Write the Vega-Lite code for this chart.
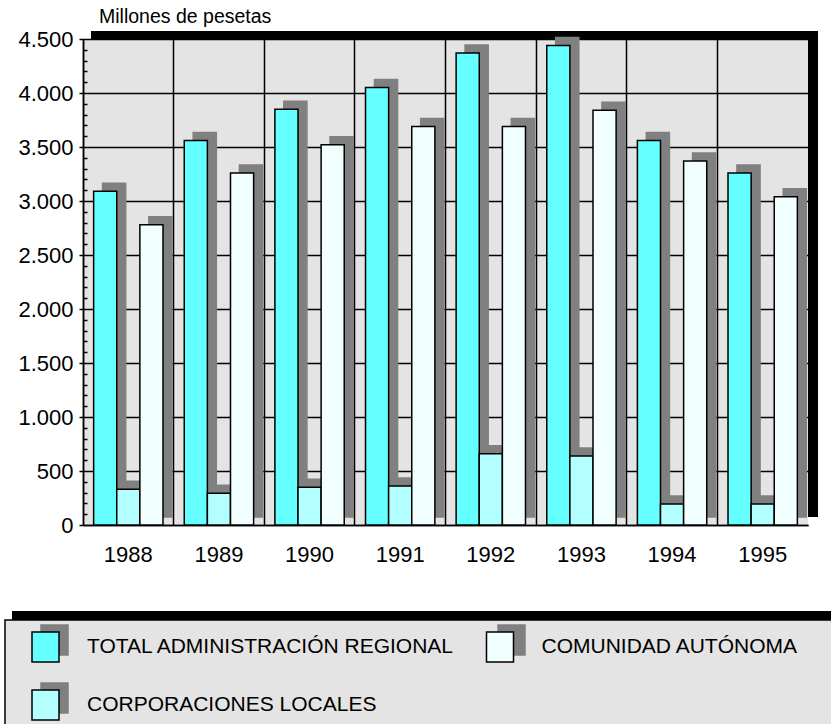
{
  "$schema": "https://vega.github.io/schema/vega-lite/v6.json",
  "width": 725,
  "height": 486,
  "autosize": {"type": "none"},
  "padding": {"left": 83, "top": 39, "right": 23, "bottom": 199},
  "background": "#FFFFFF",
  "title": {"text": "Millones de pesetas", "anchor": "start", "frame": "group", "fontSize": 19.5, "fontWeight": "normal", "font": "Liberation Sans", "color": "#000000", "dx": 16, "offset": 0},
  "config": {"view": {"fill": "#E4E4E4", "stroke": null}, "font": "Liberation Sans"},
  "data": {"values": [
    {"year": "1988", "series": "TOTAL ADMINISTRACIÓN REGIONAL", "value": 3090},
    {"year": "1988", "series": "CORPORACIONES LOCALES", "value": 330},
    {"year": "1988", "series": "COMUNIDAD AUTÓNOMA", "value": 2780},
    {"year": "1989", "series": "TOTAL ADMINISTRACIÓN REGIONAL", "value": 3560},
    {"year": "1989", "series": "CORPORACIONES LOCALES", "value": 295},
    {"year": "1989", "series": "COMUNIDAD AUTÓNOMA", "value": 3260},
    {"year": "1990", "series": "TOTAL ADMINISTRACIÓN REGIONAL", "value": 3850},
    {"year": "1990", "series": "CORPORACIONES LOCALES", "value": 350},
    {"year": "1990", "series": "COMUNIDAD AUTÓNOMA", "value": 3520},
    {"year": "1991", "series": "TOTAL ADMINISTRACIÓN REGIONAL", "value": 4050},
    {"year": "1991", "series": "CORPORACIONES LOCALES", "value": 360},
    {"year": "1991", "series": "COMUNIDAD AUTÓNOMA", "value": 3690},
    {"year": "1992", "series": "TOTAL ADMINISTRACIÓN REGIONAL", "value": 4370},
    {"year": "1992", "series": "CORPORACIONES LOCALES", "value": 660},
    {"year": "1992", "series": "COMUNIDAD AUTÓNOMA", "value": 3690},
    {"year": "1993", "series": "TOTAL ADMINISTRACIÓN REGIONAL", "value": 4440},
    {"year": "1993", "series": "CORPORACIONES LOCALES", "value": 640},
    {"year": "1993", "series": "COMUNIDAD AUTÓNOMA", "value": 3840},
    {"year": "1994", "series": "TOTAL ADMINISTRACIÓN REGIONAL", "value": 3560},
    {"year": "1994", "series": "CORPORACIONES LOCALES", "value": 195},
    {"year": "1994", "series": "COMUNIDAD AUTÓNOMA", "value": 3370},
    {"year": "1995", "series": "TOTAL ADMINISTRACIÓN REGIONAL", "value": 3260},
    {"year": "1995", "series": "CORPORACIONES LOCALES", "value": 195},
    {"year": "1995", "series": "COMUNIDAD AUTÓNOMA", "value": 3040}
  ]},
  "resolve": {
    "scale": {"fill": "independent", "xOffset": "independent"},
    "legend": {"fill": "independent"},
    "axis": {"x": "independent", "y": "independent"}
  },
  "layer": [
    {
      "mark": {"type": "bar", "opacity": 0},
      "encoding": {
        "x": {"field": "year", "type": "ordinal", "scale": {"paddingInner": 0, "paddingOuter": 0},
          "axis": {"orient": "bottom", "bandPosition": 0, "grid": true, "gridColor": "#000000", "gridWidth": 1.5, "gridOpacity": 1, "labels": false, "ticks": false, "domain": false, "title": null}},
        "xOffset": {"field": "series", "type": "nominal", "scale": {"domain": ["TOTAL ADMINISTRACIÓN REGIONAL", "CORPORACIONES LOCALES", "COMUNIDAD AUTÓNOMA"], "paddingInner": 0, "paddingOuter": 0.46}},
        "y": {"field": "value", "type": "quantitative", "scale": {"domain": [0, 4500], "nice": false},
          "axis": {"orient": "left", "offset": -4, "values": [100, 200, 300, 400, 600, 700, 800, 900, 1100, 1200, 1300, 1400, 1600, 1700, 1800, 1900, 2100, 2200, 2300, 2400, 2600, 2700, 2800, 2900, 3100, 3200, 3300, 3400, 3600, 3700, 3800, 3900, 4100, 4200, 4300, 4400], "tickSize": 4, "tickWidth": 1.5, "tickColor": "#000000", "labels": false, "domain": false, "grid": false, "title": null}},
        "fill": {"field": "series", "type": "nominal",
          "scale": {"domain": ["TOTAL ADMINISTRACIÓN REGIONAL", "COMUNIDAD AUTÓNOMA", "CORPORACIONES LOCALES"], "range": ["#000000"]},
          "legend": {"orient": "none", "legendX": -71, "legendY": 572, "title": null, "padding": 0, "values": ["TOTAL ADMINISTRACIÓN REGIONAL"], "symbolType": "M-1,-1H1V-0.69H-1Z", "symbolSize": 705600, "symbolStrokeWidth": 0, "symbolOpacity": 1, "labelExpr": "''", "labelOffset": 0, "zindex": 1}}
      }
    },
    {
      "mark": {"type": "bar", "opacity": 0},
      "encoding": {
        "x": {"field": "year", "type": "ordinal", "axis": null},
        "xOffset": {"field": "series", "type": "nominal", "scale": {"domain": ["TOTAL ADMINISTRACIÓN REGIONAL", "CORPORACIONES LOCALES", "COMUNIDAD AUTÓNOMA"], "paddingInner": 0, "paddingOuter": 0.46}},
        "y": {"field": "value", "type": "quantitative", "axis": null},
        "fill": {"field": "series", "type": "nominal",
          "scale": {"domain": ["TOTAL ADMINISTRACIÓN REGIONAL", "COMUNIDAD AUTÓNOMA", "CORPORACIONES LOCALES"], "range": ["#E4E4E4"]},
          "legend": {"orient": "none", "legendX": -79, "legendY": 580, "title": null, "padding": 0, "values": ["TOTAL ADMINISTRACIÓN REGIONAL"], "symbolType": "M-1,-1H1V-0.69H-1Z", "symbolSize": 705600, "symbolStrokeColor": "#000000", "symbolStrokeWidth": 1.5, "symbolOpacity": 1, "labelExpr": "''", "labelOffset": 0, "zindex": 2}}
      }
    },
    {
      "mark": {"type": "bar", "stroke": "#808080", "strokeWidth": 1.5, "yOffset": -8, "y2Offset": -8},
      "encoding": {
        "x": {"field": "year", "type": "ordinal",
          "axis": {"orient": "bottom", "labelAngle": 0, "labelFontSize": 22, "labelColor": "#000000", "labelPadding": 19, "ticks": false, "grid": false, "domain": true, "domainColor": "#000000", "domainWidth": 1.5, "title": null}},
        "xOffset": {"field": "series", "type": "nominal", "scale": {"domain": ["TOTAL ADMINISTRACIÓN REGIONAL", "CORPORACIONES LOCALES", "COMUNIDAD AUTÓNOMA"], "paddingInner": 0, "paddingOuter": 0.46, "align": 0.92}},
        "y": {"field": "value", "type": "quantitative",
          "axis": {"orient": "left", "values": [0, 500, 1000, 1500, 2000, 2500, 3000, 3500, 4000, 4500], "labelExpr": "replace(format(datum.value, ','), ',', '.')", "labelFontSize": 22, "labelColor": "#000000", "labelPadding": 6, "tickSize": 4, "tickWidth": 1.5, "tickColor": "#000000", "grid": true, "gridColor": "#000000", "gridWidth": 1.5, "gridOpacity": 1, "domain": true, "domainColor": "#000000", "domainWidth": 1.5, "title": null}},
        "fill": {"field": "series", "type": "nominal",
          "scale": {"domain": ["TOTAL ADMINISTRACIÓN REGIONAL", "COMUNIDAD AUTÓNOMA", "CORPORACIONES LOCALES"], "range": ["#808080"]},
          "legend": {"orient": "none", "direction": "horizontal", "legendX": -44.5, "legendY": 585, "title": null, "padding": 0, "columns": 2, "columnPadding": 423, "rowPadding": 22, "symbolType": "M-0.9,-1H0.9V1H-0.9Z", "symbolSize": 900, "symbolStrokeColor": "#808080", "symbolStrokeWidth": 1.5, "symbolOpacity": 1, "labelExpr": "''", "labelOffset": 0, "zindex": 3}}
      }
    },
    {
      "mark": {"type": "bar", "stroke": "#000000", "strokeWidth": 1.5},
      "encoding": {
        "x": {"field": "year", "type": "ordinal",
          "axis": {"orient": "top", "labels": false, "ticks": false, "grid": false, "domain": true, "domainColor": "#000000", "domainWidth": 8, "translate": 8, "offset": 12, "title": null}},
        "xOffset": {"field": "series", "type": "nominal", "scale": {"domain": ["TOTAL ADMINISTRACIÓN REGIONAL", "CORPORACIONES LOCALES", "COMUNIDAD AUTÓNOMA"], "paddingInner": 0, "paddingOuter": 0.46}},
        "y": {"field": "value", "type": "quantitative",
          "axis": {"orient": "right", "labels": false, "ticks": false, "grid": false, "domain": true, "domainColor": "#000000", "domainWidth": 10, "translate": -8, "offset": 13, "title": null}},
        "fill": {"field": "series", "type": "nominal",
          "scale": {"domain": ["TOTAL ADMINISTRACIÓN REGIONAL", "COMUNIDAD AUTÓNOMA", "CORPORACIONES LOCALES"], "range": ["#66FFFF", "#F2FFFF", "#B3FFFF"]},
          "legend": {"orient": "none", "direction": "horizontal", "legendX": -53.5, "legendY": 592, "title": null, "padding": 0, "columns": 2, "columnPadding": 27.5, "rowPadding": 22, "symbolType": "M-0.9,-1H0.9V1H-0.9Z", "symbolSize": 900, "symbolStrokeColor": "#000000", "symbolStrokeWidth": 1.5, "symbolOpacity": 1, "labelOffset": 25.5, "labelFont": "Liberation Sans", "labelFontSize": 21, "labelColor": "#000000", "labelLimit": 800, "zindex": 4}}
      }
    }
  ]
}
